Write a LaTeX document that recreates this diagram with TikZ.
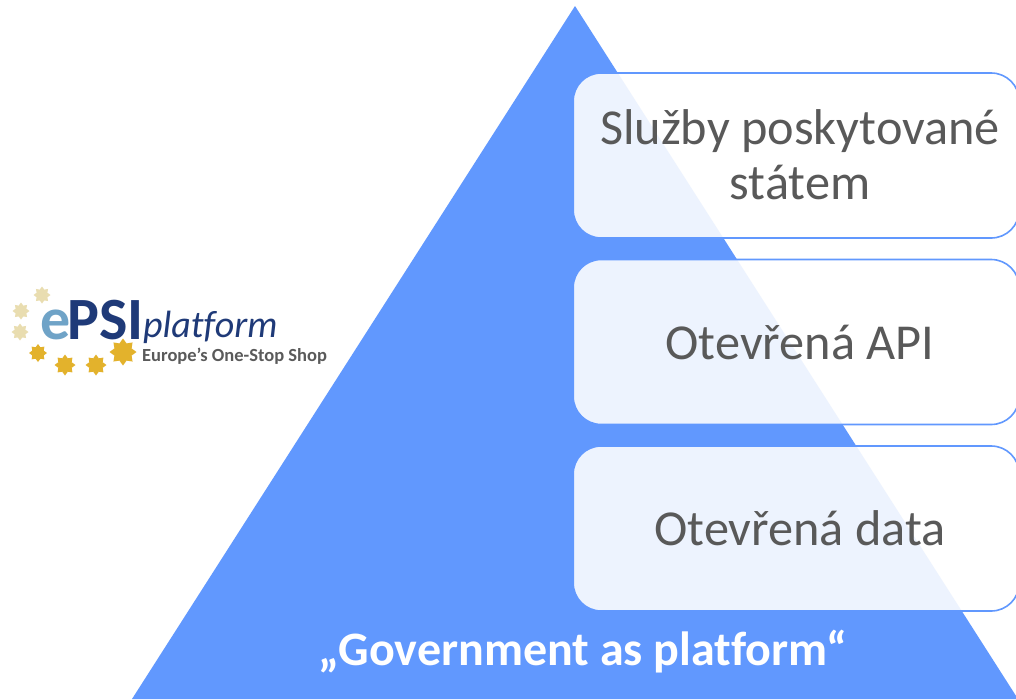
\documentclass[tikz,border=0pt]{standalone}
\usepackage{fontspec}
\setmainfont{Carlito}
\usetikzlibrary{shapes.geometric}
\definecolor{pyr}{HTML}{6198FE}
\definecolor{txt}{HTML}{595959}
\definecolor{psi}{HTML}{1F3A78}
\definecolor{psie}{HTML}{6FA3C7}
\definecolor{sub}{HTML}{5A5A5A}
\definecolor{stary}{HTML}{E3B22C}
\definecolor{starp}{HTML}{E9DDB0}
\tikzset{
  tier/.style={draw=pyr,line width=1.6pt,rounded corners=28pt,fill=white,fill opacity=.89,text opacity=1,
    minimum width=446pt,minimum height=165pt,anchor=north west,inner sep=0pt,outer sep=0pt},
  tiertext/.style={text=txt,font=\fontsize{50.3}{55}\selectfont,align=center},
  goldstar/.style={star,star points=8,star point ratio=1.45,fill=stary,draw=none,inner sep=0pt,minimum size=#1},
  palestar/.style={star,star points=8,star point ratio=1.45,fill=starp,draw=none,inner sep=0pt,minimum size=#1}
}
\begin{document}
\begin{tikzpicture}[x=1pt,y=-1pt]
\path[use as bounding box] (0,0) rectangle (1016,699);
\clip (0,0) rectangle (1016,699);
\fill[white] (0,0) rectangle (1016,699);
\fill[pyr] (575,6) -- (1018,699) -- (132,699) -- cycle;
\node[tier] (box1) at (573.2,73) {};
\node[tier] (box2) at (573.2,259.5) {};
\node[tier] (box3) at (573.2,446) {};
\node[tiertext] (t1) at (800,155) {Služby poskytované\\státem};
\node[tiertext] (t2) at (800,342) {Otevřená API};
\node[tiertext] (t3) at (800,528) {Otevřená data};
\node[text=white,font=\fontsize{48}{52}\selectfont\bfseries] (cap) at (583,652) {„Government as plat\kern0pt form“};
% logo
\node[palestar=17pt] (s1) at (42,295) {};
\node[palestar=17pt] (s2) at (21,311) {};
\node[palestar=17pt] (s3) at (20,332) {};
\node[goldstar=18pt] (s4) at (38,353) {};
\node[goldstar=21pt] (s5) at (65,365) {};
\node[goldstar=21pt] (s6) at (96,365) {};
\node[goldstar=27pt] (s7) at (123,352) {};
\node[anchor=base west,inner sep=0pt,text=psie,font=\fontsize{60}{60}\selectfont\bfseries] (e) at (40,339) {e};
\node[anchor=base west,inner sep=0pt,text=psi,font=\fontsize{60}{60}\selectfont\bfseries] (psi) at (67,339) {PSI};
\node[anchor=base west,inner sep=0pt,text=psi,font=\fontsize{38}{38}\selectfont\itshape] (plat) at (143,337) {plat\kern0pt form};
\node[anchor=base west,inner sep=0pt,text=sub,font=\fontsize{18.5}{18.5}\selectfont\bfseries] (eu) at (142,361) {Europe's One-Stop Shop};
\end{tikzpicture}
\end{document}
